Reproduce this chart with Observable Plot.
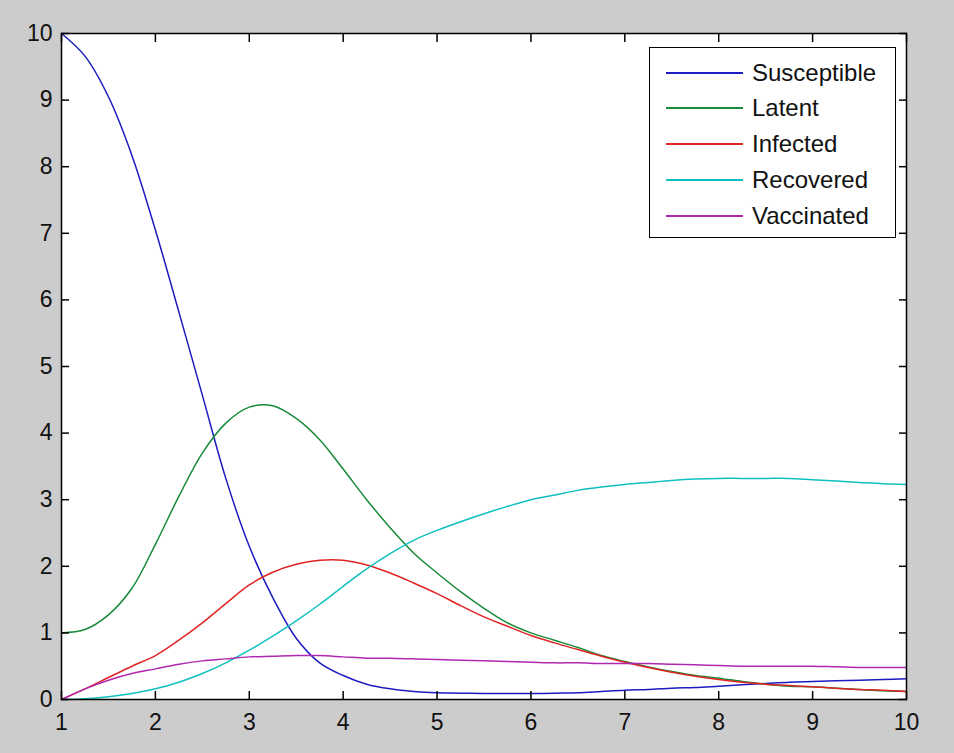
<!DOCTYPE html>
<html><head><meta charset="utf-8">
<script src="https://cdn.jsdelivr.net/npm/d3@7"></script>
<script src="https://cdn.jsdelivr.net/npm/@observablehq/plot@0.6"></script>
<style>
html,body{margin:0;padding:0;background:#cccccc;}
#wrap{position:relative;width:954px;height:753px;background:#cccccc;font-family:"Liberation Sans",Arial,sans-serif;overflow:hidden;}
#wrap svg{display:block;}
#legend{position:absolute;left:649px;top:47px;width:245px;height:189px;background:#fff;border:1.5px solid #000;}
.lrow{position:absolute;left:0;width:245px;}
.lline{position:absolute;left:16px;width:77px;height:1.6px;}
.ltext{position:absolute;left:102px;font-size:24px;line-height:24px;color:#111;white-space:nowrap;}
</style></head><body><div id="wrap"></div>
<script>
// time axis (x)
const times = [1,1.25,1.5,1.75,2,2.25,2.5,2.75,3,3.25,3.5,3.75,4,4.25,4.5,4.75,5,5.25,5.5,5.75,6,6.25,6.5,6.75,7,7.25,7.5,7.75,8,8.25,8.5,8.75,9,9.25,9.5,9.75,10];
const susceptible = [10,9.66,9.05,8.17,7.05,5.82,4.57,3.32,2.30,1.53,0.92,0.55,0.36,0.23,0.16,0.12,0.10,0.095,0.09,0.09,0.09,0.095,0.10,0.12,0.14,0.15,0.17,0.18,0.20,0.22,0.24,0.26,0.27,0.28,0.29,0.30,0.31];
const latent = [1.0,1.05,1.27,1.67,2.33,3.05,3.70,4.15,4.39,4.41,4.22,3.90,3.46,3.0,2.58,2.20,1.90,1.62,1.37,1.15,1.00,0.89,0.78,0.66,0.57,0.49,0.42,0.36,0.32,0.27,0.23,0.20,0.19,0.17,0.15,0.13,0.12];
const infected = [0.0,0.16,0.33,0.50,0.66,0.89,1.15,1.44,1.72,1.91,2.03,2.09,2.09,2.02,1.90,1.75,1.59,1.41,1.24,1.10,0.96,0.85,0.75,0.65,0.56,0.48,0.41,0.35,0.30,0.26,0.23,0.21,0.19,0.17,0.15,0.14,0.12];
const recovered = [0,0.01,0.04,0.09,0.16,0.26,0.39,0.55,0.74,0.95,1.18,1.43,1.70,1.96,2.19,2.39,2.54,2.67,2.79,2.90,3.00,3.07,3.14,3.19,3.23,3.26,3.29,3.31,3.32,3.32,3.32,3.32,3.30,3.28,3.26,3.24,3.23];
const vaccinated = [0,0.16,0.29,0.39,0.46,0.53,0.58,0.61,0.64,0.65,0.66,0.66,0.64,0.62,0.62,0.61,0.60,0.59,0.58,0.57,0.56,0.55,0.55,0.54,0.54,0.54,0.53,0.52,0.51,0.50,0.50,0.50,0.50,0.49,0.48,0.48,0.48];

const seriesNames = ["Susceptible","Latent","Infected","Recovered","Vaccinated"];
const seriesColors = ["#1c1cc0","#188a38","#e02424","#10c0c0","#b028b0"];
const xTicks = [1,2,3,4,5,6,7,8,9,10];
const yTicks = [0,1,2,3,4,5,6,7,8,9,10];

const seriesValues = [susceptible, latent, infected, recovered, vaccinated];
const rows = [];
seriesNames.forEach((name, s) => {
  times.forEach((t, i) => rows.push({t, value: seriesValues[s][i], series: name}));
});

const chart = Plot.plot({
  width: 954, height: 753,
  marginLeft: 61, marginRight: 48, marginTop: 33, marginBottom: 54,
  style: {background: "#cccccc", fontFamily: "'Liberation Sans', Arial, sans-serif", fontSize: "23px", color: "#000"},
  x: {domain: [1, 10]},
  y: {domain: [0, 10]},
  color: {domain: seriesNames, range: seriesColors},
  marks: [
    Plot.frame({fill: "white", stroke: null}),
    Plot.line(rows, {x: "t", y: "value", z: "series", stroke: "series", strokeWidth: 1.5, curve: "catmull-rom"}),
    Plot.frame({stroke: "black", strokeWidth: 1.5}),
    Plot.axisX(xTicks, {anchor: "bottom", tickSize: 0, tickPadding: 14, tickFormat: "d", label: null, fill: "#111"}),
    Plot.axisX(xTicks, {anchor: "bottom", tickSize: -8, tickFormat: () => "", label: null, stroke: "black", strokeWidth: 1.5}),
    Plot.axisX(xTicks, {anchor: "top", tickSize: -8, tickFormat: () => "", label: null, stroke: "black", strokeWidth: 1.5}),
    Plot.axisY(yTicks, {anchor: "left", tickSize: 0, tickPadding: 9, tickFormat: "d", label: null, fill: "#111"}),
    Plot.axisY(yTicks, {anchor: "left", tickSize: -8, tickFormat: () => "", label: null, stroke: "black", strokeWidth: 1.5}),
    Plot.axisY(yTicks, {anchor: "right", tickSize: -8, tickFormat: () => "", label: null, stroke: "black", strokeWidth: 1.5})
  ]
});

const wrap = document.getElementById("wrap");
wrap.appendChild(chart);

const legend = document.createElement("div");
legend.id = "legend";
const rowCenters = [25, 60, 96, 132, 168];
seriesNames.forEach((name, i) => {
  const row = document.createElement("div");
  row.className = "lrow";
  row.style.top = rowCenters[i] + "px";
  const line = document.createElement("div");
  line.className = "lline";
  line.style.background = seriesColors[i];
  line.style.top = "-1px";
  const txt = document.createElement("div");
  txt.className = "ltext";
  txt.style.top = "-12px";
  txt.textContent = name;
  row.appendChild(line);
  row.appendChild(txt);
  legend.appendChild(row);
});
wrap.appendChild(legend);
</script>
</body></html>
